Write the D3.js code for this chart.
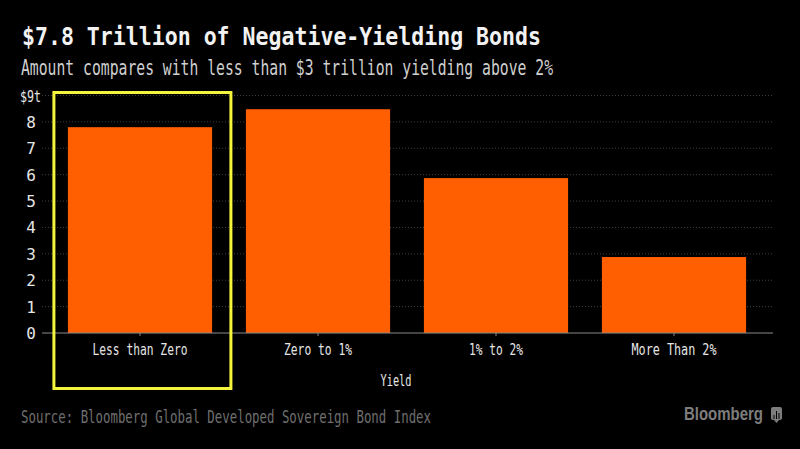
<!DOCTYPE html>
<html>
<head>
<meta charset="utf-8">
<script src="https://cdn.jsdelivr.net/npm/d3@7"></script>
<style>
  html, body { margin: 0; background: #000; }
  svg { display: block; }
  text { font-family: "DejaVu Sans Mono", monospace; }
</style>
</head>
<body>
<div id="chart"></div>
<script>
const categories = ["Less than Zero", "Zero to 1%", "1% to 2%", "More Than 2%"];
const values = [7.8, 8.48, 5.87, 2.88];
const yTicks = [0, 1, 2, 3, 4, 5, 6, 7, 8, 9];
const highlighted = "Less than Zero";

const width = 800;
const height = 449;

const svg = d3.select("#chart").append("svg")
    .attr("width", width)
    .attr("height", height)
    .style("background", "#000");

const x = d3.scaleBand().domain(categories).range([51, 763]).paddingInner(0.19).paddingOuter(0.095);
const y = d3.scaleLinear().domain([0, 9]).range([333, 95.5]);

// Dotted gridlines
svg.append("g")
    .selectAll("line")
    .data(yTicks.filter(d => d > 0))
    .join("line")
    .attr("x1", 42)
    .attr("x2", 773)
    .attr("y1", d => y(d))
    .attr("y2", d => y(d))
    .attr("stroke", "#404040")
    .attr("stroke-width", 1)
    .attr("stroke-dasharray", "1,2");

svg.append("g")
    .selectAll("rect")
    .data(categories)
    .join("rect")
    .attr("x", d => x(d))
    .attr("y", (d, i) => y(values[i]))
    .attr("width", x.bandwidth())
    .attr("height", (d, i) => y(0) - y(values[i]))
    .attr("fill", "#ff5f00");

// Baseline and category ticks
svg.append("line")
    .attr("x1", 42).attr("x2", 773)
    .attr("y1", y(0)).attr("y2", y(0))
    .attr("stroke", "#8a8a8a");

svg.append("g")
    .selectAll("line")
    .data(categories)
    .join("line")
    .attr("x1", d => x(d) + x.bandwidth() / 2)
    .attr("x2", d => x(d) + x.bandwidth() / 2)
    .attr("y1", y(0))
    .attr("y2", y(0) + 3)
    .attr("stroke", "#8a8a8a");

svg.append("g")
    .selectAll("text")
    .data(yTicks)
    .join("text")
    .attr("x", d => d === 9 ? 41 : 36)
    .attr("y", d => y(d) + 6)
    .attr("text-anchor", "end")
    .attr("fill", "#e6e6e6")
    .attr("font-size", 16)
    .attr("textLength", d => d === 9 ? 21 : null)
    .attr("lengthAdjust", "spacingAndGlyphs")
    .text(d => d === 9 ? "$9t" : d);

const labelWidths = { "Less than Zero": 95, "Zero to 1%": 68, "1% to 2%": 54, "More Than 2%": 85 };

svg.append("g")
    .selectAll("text")
    .data(categories)
    .join("text")
    .attr("x", d => x(d) + x.bandwidth() / 2)
    .attr("y", 355)
    .attr("text-anchor", "middle")
    .attr("fill", "#e6e6e6")
    .attr("font-size", 16.5)
    .attr("textLength", d => labelWidths[d])
    .attr("lengthAdjust", "spacingAndGlyphs")
    .text(d => d);

svg.append("text")
    .attr("x", 396).attr("y", 386)
    .attr("text-anchor", "middle")
    .attr("fill", "#e6e6e6")
    .attr("font-size", 16)
    .attr("textLength", 31)
    .attr("lengthAdjust", "spacingAndGlyphs")
    .text("Yield");

// Highlight box around the first category
svg.append("rect")
    .attr("x", x(highlighted) - 14)
    .attr("y", y(9) - 3)
    .attr("width", 177)
    .attr("height", 296)
    .attr("fill", "none")
    .attr("stroke", "#f4f43c")
    .attr("stroke-width", 3);

svg.append("text")
    .attr("x", 22).attr("y", 45)
    .attr("fill", "#f2f2f2")
    .attr("font-size", 25)
    .attr("font-weight", "bold")
    .attr("textLength", 519)
    .attr("lengthAdjust", "spacingAndGlyphs")
    .text("$7.8 Trillion of Negative-Yielding Bonds");

svg.append("text")
    .attr("x", 21).attr("y", 75)
    .attr("fill", "#cfcfcf")
    .attr("font-size", 21.5)
    .attr("textLength", 532)
    .attr("lengthAdjust", "spacingAndGlyphs")
    .text("Amount compares with less than $3 trillion yielding above 2%");

svg.append("text")
    .attr("x", 21).attr("y", 423)
    .attr("fill", "#6f6f6f")
    .attr("font-size", 18)
    .attr("textLength", 410)
    .attr("lengthAdjust", "spacingAndGlyphs")
    .text("Source: Bloomberg Global Developed Sovereign Bond Index");

svg.append("text")
    .attr("x", 684).attr("y", 420)
    .attr("fill", "#7d7d7d")
    .attr("font-size", 19)
    .attr("font-weight", "bold")
    .attr("textLength", 79)
    .attr("lengthAdjust", "spacingAndGlyphs")
    .style("font-family", "'Liberation Sans', sans-serif")
    .text("Bloomberg");

// Small logo mark next to the wordmark
const logo = svg.append("g").attr("transform", "translate(771,407)");
logo.append("rect").attr("width", 11).attr("height", 13).attr("rx", 2).attr("fill", "#7d7d7d");
logo.append("path").attr("d", "M3 13 L8 13 L5.5 16 Z").attr("fill", "#7d7d7d");
logo.selectAll("line.bar")
    .data([[3, 8], [5.5, 4], [8, 6]])
    .join("line")
    .attr("x1", d => d[0]).attr("x2", d => d[0])
    .attr("y1", d => d[1]).attr("y2", 12)
    .attr("stroke", "#000")
    .attr("stroke-width", 1);
</script>
</body>
</html>
